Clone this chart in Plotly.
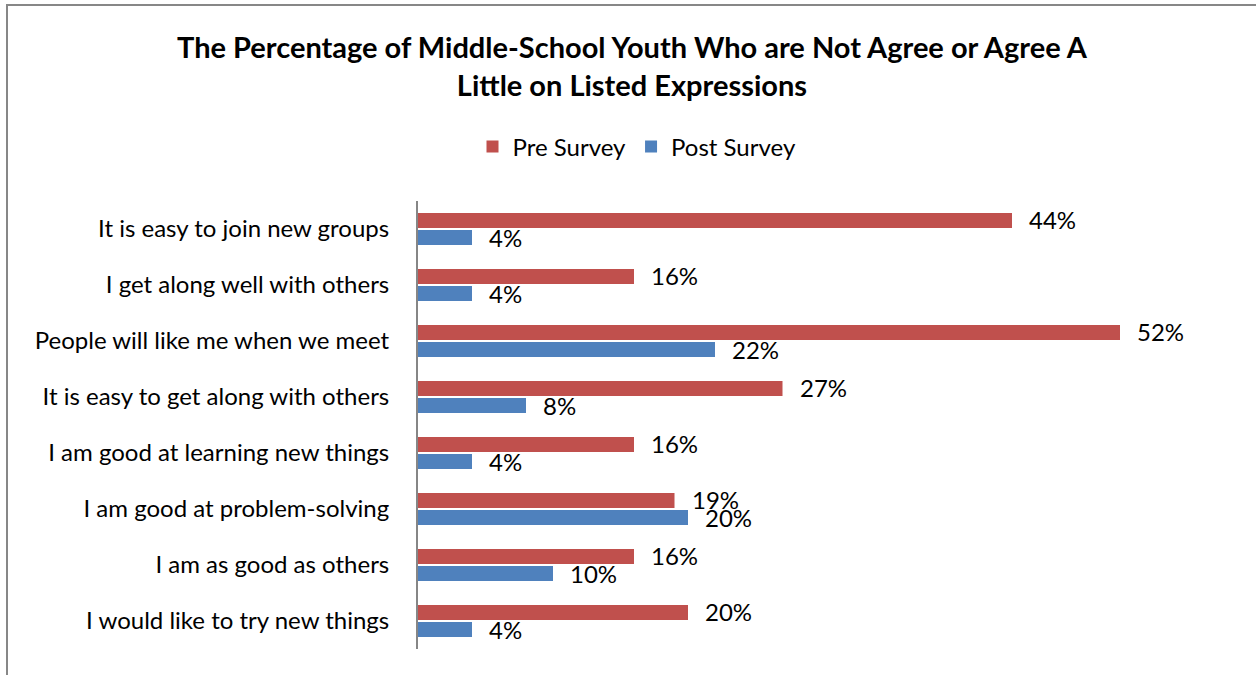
import plotly.graph_objects as go

categories = [
    "It is easy to join new groups",
    "I get along well with others",
    "People will like me when we meet",
    "It is easy to get along with others",
    "I am good at learning new things",
    "I am good at problem-solving",
    "I am as good as others",
    "I would like to try new things",
]
pre_survey = [44, 16, 52, 27, 16, 19, 16, 20]
post_survey = [4, 4, 22, 8, 4, 20, 10, 4]

RED = "#C0504D"
BLUE = "#4F81BD"
FONT = "Lato"
TXT = 24

W, H = 1256, 675
L, R, T, B = 418, 28, 201, 26
XMAX = 60
pw = W - L - R
ph = H - T - B

fig = go.Figure()
fig.add_trace(go.Bar(name="Pre Survey", y=categories, x=pre_survey, orientation="h",
                     marker=dict(color=RED, line=dict(width=0))))
fig.add_trace(go.Bar(name="Post Survey", y=categories, x=post_survey, orientation="h",
                     marker=dict(color=BLUE, line=dict(width=0))))

# value labels just past the bar ends
annotations = []
for series, dy in ((pre_survey, 10), (post_survey, -8)):
    for cat, v in zip(categories, series):
        annotations.append(dict(x=v, y=cat, xref="x", yref="y", text=f"{v}%",
                                showarrow=False, xanchor="left", yanchor="middle",
                                xshift=15, yshift=dy,
                                font=dict(family=FONT, size=TXT, color="#000000")))

annotations.append(dict(
    text="<b>The Percentage of Middle-School Youth Who are Not Agree or Agree A<br>Little on Listed Expressions</b>",
    x=(632 - L) / pw, y=(H - B - 66) / ph,
    xref="paper", yref="paper", showarrow=False, xanchor="center", yanchor="middle",
    font=dict(family=FONT, size=29, color="#000000"), align="center"))

fig.update_layout(
    width=W, height=H,
    margin=dict(l=L, r=R, t=T, b=B, pad=0),
    paper_bgcolor="white", plot_bgcolor="white",
    barmode="group", bargap=0.39, bargroupgap=0.12,
    showlegend=True,
    legend=dict(orientation="h", x=(637 - L) / pw, xanchor="center",
                y=(H - B - 147) / ph, yanchor="middle",
                font=dict(family=FONT, size=TXT, color="#000000"),
                itemwidth=30, traceorder="normal"),
    xaxis=dict(range=[0, XMAX], visible=False, showgrid=False, zeroline=False),
    yaxis=dict(autorange="reversed", showline=True, linecolor="#868686", linewidth=2,
               ticks="", ticklabelstandoff=22, showgrid=False,
               tickfont=dict(family=FONT, size=TXT, color="#000000")),
    annotations=annotations,
    shapes=[dict(type="rect", xref="paper", yref="paper",
                 x0=(7 - L) / pw, x1=(W + 20 - L) / pw,
                 y0=(H - B - (H + 20)) / ph, y1=(H - B - 5) / ph,
                 line=dict(color="#878787", width=2), fillcolor="rgba(0,0,0,0)",
                 layer="below")],
)

fig.write_html("out.html")
